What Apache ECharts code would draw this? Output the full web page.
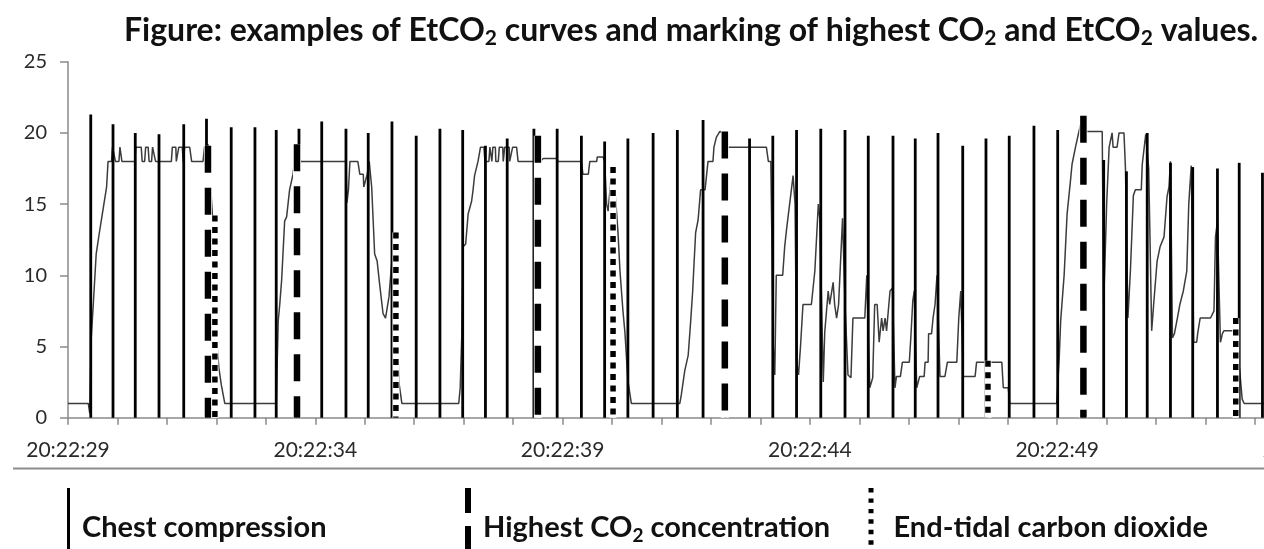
<!DOCTYPE html>
<html><head><meta charset="utf-8">
<script src="https://cdn.jsdelivr.net/npm/echarts@6/dist/echarts.min.js"></script>
<style>html,body{margin:0;padding:0;background:#fff}#c{width:1264px;height:549px}</style>
</head><body><div id="c"></div>
<script>
// time axis: seconds after 20:22:29
const xTickValues = [0, 5, 10, 15, 20, 25];
const xTickLabels = ['20:22:29', '20:22:34', '20:22:39', '20:22:44', '20:22:49', '20:22:54'];

// chest compressions (time, peak height)
const compressionT = [0.46,0.91,1.36,1.84,2.34,2.80,3.30,3.78,4.21,4.67,5.13,5.62,6.07,6.55,7.04,7.52,7.98,8.44,8.88,9.42,9.89,10.38,10.85,11.32,11.83,12.32,12.84,13.30,13.78,14.25,14.73,15.22,15.71,16.18,16.68,17.13,17.59,18.09,18.56,19.03,19.53,20.01,20.53,20.94,21.40,21.82,22.29,22.74,23.24,23.68,24.15];
const compressionH = [21.3,20.6,20.0,19.9,20.6,21.0,20.4,20.4,20.2,20.3,20.8,20.3,20.0,20.8,19.8,20.3,20.2,19.1,19.6,20.3,20.3,19.8,19.4,19.6,20.0,20.2,20.9,20.0,19.6,19.8,20.2,20.3,20.2,19.8,19.8,19.6,20.0,19.1,19.6,19.8,20.5,20.2,21.0,18.1,17.3,20.0,17.9,17.6,17.5,17.9,17.2];

// highest CO2 concentration markers
const highestT = [2.83, 4.63, 9.50, 13.28, 20.53];
const highestH = [19.1, 19.2, 19.8, 20.1, 21.2];

// end-tidal CO2 markers
const etco2T = [2.97, 6.63, 11.02, 18.60, 23.61];
const etco2H = [14.2, 13.0, 17.6, 4.0, 7.0];

// EtCO2 curve
const curveT = [0,0.41,0.44,0.47,0.51,0.57,0.63,0.68,0.71,0.78,0.81,0.88,0.90,0.94,0.96,1.03,1.05,1.08,1.09,1.35,1.37,1.48,1.50,1.55,1.57,1.62,1.64,1.69,1.71,1.75,1.77,2.09,2.11,2.18,2.19,2.23,2.24,2.31,2.33,2.35,2.36,2.46,2.50,2.73,2.76,2.83,2.87,2.92,2.97,3.00,3.05,3.10,3.17,
4.21,4.25,4.28,4.32,4.38,4.42,4.48,4.52,4.55,4.58,4.62,4.67,4.70,5.62,5.64,5.67,5.70,5.86,5.90,5.97,5.98,6.02,6.05,6.09,6.14,6.20,6.25,6.30,6.37,6.42,6.49,6.57,6.62,6.66,6.69,6.75,
7.90,7.93,7.96,7.99,8.04,8.09,8.16,8.19,8.22,8.29,8.33,8.34,8.41,8.43,8.51,8.53,8.56,8.57,8.59,8.64,8.65,8.70,8.72,8.79,8.80,8.82,8.83,8.92,8.93,8.97,8.99,9.07,9.10,9.54,9.61,9.88,9.91,10.38,10.41,10.52,10.55,10.69,10.70,10.82,10.85,10.89,10.92,10.97,11.02,11.08,11.12,11.16,11.22,11.26,11.32,11.39,
12.37,12.40,12.47,12.54,12.59,12.63,12.66,12.69,12.74,12.77,12.79,12.88,12.91,12.94,13.04,13.06,13.11,13.18,13.27,13.31,14.12,14.16,14.21,14.26,14.29,14.32,14.45,14.49,14.53,14.59,14.66,14.70,14.73,14.77,14.81,14.86,15.03,15.10,15.17,15.20,15.27,15.30,15.37,15.40,15.44,15.47,15.50,15.54,15.58,15.62,15.66,15.71,15.77,15.83,15.87,16.11,16.15,16.17,16.21,16.27,16.31,16.36,16.40,16.45,16.48,16.52,16.55,16.62,16.67,16.72,16.75,16.83,16.87,17.01,17.04,17.08,17.11,17.16,17.22,17.31,17.33,17.39,17.40,17.46,17.49,17.53,17.57,17.63,17.73,17.78,17.97,18.01,18.05,18.10,18.34,18.37,18.88,18.91,19.01,19.04,
19.99,20.04,20.07,20.14,20.17,20.20,20.27,20.30,20.37,20.44,20.51,20.57,20.91,20.94,21.00,21.05,21.11,21.13,21.21,21.25,21.35,21.38,21.43,21.48,21.54,21.58,21.70,21.72,21.79,21.85,21.91,21.95,22.02,22.08,22.16,22.22,22.26,22.29,22.33,22.37,22.43,22.48,22.55,22.62,22.66,22.71,22.76,22.82,22.84,22.89,23.10,23.17,23.20,23.24,23.30,23.34,23.37,23.57,23.63,23.69,23.74,23.78,24.18];
const curveV = [1,1,0.3,5.6,7.9,11.5,12.9,14,14.1,16.2,18,18,19,19,18,18,19,19,18,18,19,19,18,18,19,19,18,18,19,19,18,18,19,19,18,18,19,19,18,18,19,19,18,18,19,19.2,17,14.2,9,5.6,3.5,2.3,1,
1,6.8,7.9,9.7,13.8,14.1,16,16,17.1,18,19,19.1,18,18,15.1,16,18,18,17.1,17.1,16.2,16.2,17.1,18,16.2,11.5,11,9.4,7.3,7,8.5,12,13,6,2.5,1,
1,2.1,5.6,12,12.2,14.3,15.2,16,17,18,18,19,19,18,18,19,19,18,19,19,18,18,19,19,18,18,19,19,18,18,19,19,18,18,18.2,18.2,18,18,17.1,17.1,18,18,18.3,18.3,18,15,14.5,16.5,17.5,15,13,10.3,7.5,6,2.6,1,
1,1.6,3.3,4.4,6.8,8.9,11,13,13.9,14,16,16,17,18,18,19,19.7,20.1,19.9,19,19,18,18,5,3,10,10,12,13.3,15,17,15,4,3,5,7.95,7.95,10.3,15,14,2.5,6,8.9,7.95,7.95,9.5,7.95,7,7.95,7.95,14,8,3,2.8,7,7,10,10,2.1,2.8,7.95,7.95,5.3,7,6.1,7,6.1,8.9,9.1,2.1,2.9,2.9,3.9,3.9,5.6,8.2,8.9,2.1,2.9,2.9,3.9,3.9,5.9,5.9,7,7.95,10,2.9,2.9,3.9,3.9,7,8.9,2.9,2.9,3.9,3.9,2.1,2.1,1,
1,4.1,6.8,10,10,14.3,16.7,17.8,19,20.1,21.1,20.1,20.1,7.95,15,19,20,19,19,20,20,17.5,7,10.3,15.6,16,16,17.8,19.9,17.5,6.1,7.95,11,12,12.7,15.5,16.2,18,5.6,5.9,7,7.95,8.9,10.3,15,17.7,5.3,5.3,5.9,7,7,7.5,12.7,13.8,5.3,5.9,6.1,6.1,5,3.3,1.3,1,1];

const FONT = 'Lato, Carlito, "Open Sans", sans-serif';

function pairs(a, b) { return a.map((t, i) => [t, b[i]]); }

function vline(width, dash, underlay) {
  return function (params, api) {
    const top = api.coord([api.value(0), api.value(1)]);
    const bot = api.coord([api.value(0), 0]);
    const shape = { x1: top[0], y1: top[1], x2: bot[0], y2: bot[1] };
    const children = [];
    if (underlay) children.push({ type: 'line', shape: shape, style: { stroke: '#fff', lineWidth: width + 1.5 } });
    children.push({ type: 'line', shape: shape, style: { stroke: '#000', lineWidth: width, lineDash: dash } });
    return { type: 'group', children: children };
  };
}

let dotPath = 'path://';
for (let i = 0; i < 9; i++) dotPath += 'M0,' + (i * 10.45).toFixed(2) + 'h5v4.4h-5z';
const solidPath = 'path://M0,0h3v88h-3z';
const dashPath = 'path://M0,0h6v25h-6zM0,38h6v25h-6zM0,76h6v12h-6z';

const legendRich = {
  a: { fontFamily: FONT, fontWeight: 'bold', fontSize: 29, color: '#111', lineHeight: 34 },
  s: { fontFamily: FONT, fontWeight: 'bold', fontSize: 19, color: '#111', lineHeight: 19, verticalAlign: 'bottom' }
};
function legendCfg(left, name, icon, w, pad, fmt) {
  return {
    left: left, top: 483, orient: 'horizontal', itemWidth: w, itemHeight: 88,
    data: [{ name: name, icon: icon }], selectedMode: false,
    formatter: fmt,
    textStyle: { padding: [0, 0, 8, pad], rich: legendRich }
  };
}

const chart = echarts.init(document.getElementById('c'), null, { renderer: 'canvas' });
chart.setOption({
  animation: false,
  backgroundColor: '#fff',
  title: {
    left: 119, top: 8,
    text: '{a|Figure: examples of EtCO}{s|2}{a| curves and marking of highest CO}{s|2}{a| and EtCO}{s|2}{a| values.}',
    textStyle: {
      rich: {
        a: { fontFamily: FONT, fontWeight: 'bold', fontSize: 32, color: '#111', lineHeight: 36 },
        s: { fontFamily: FONT, fontWeight: 'bold', fontSize: 21, color: '#111', lineHeight: 21, verticalAlign: 'bottom' }
      }
    }
  },
  grid: { left: 68, top: 61.7, bottom: 131.3, right: -40.5, containLabel: false, outerBoundsMode: 'none' },
  xAxis: {
    type: 'value', min: 0, max: 25, interval: 1,
    axisLine: { show: true, lineStyle: { color: '#8a8a8a', width: 1.5 } },
    axisTick: { show: true, length: 7, lineStyle: { color: '#8a8a8a', width: 1.5 } },
    splitLine: { show: false },
    axisLabel: {
      margin: 22, fontFamily: FONT, fontSize: 21, color: '#2a2a2a', showMaxLabel: true, showMinLabel: true, hideOverlap: false,
      formatter: function (v) { const i = xTickValues.indexOf(v); return i >= 0 ? xTickLabels[i] : ''; }
    }
  },
  yAxis: {
    type: 'value', min: 0, max: 25, interval: 5,
    axisLine: { show: true, lineStyle: { color: '#8a8a8a', width: 1.5 } },
    axisTick: { show: true, length: 8, lineStyle: { color: '#8a8a8a', width: 1.5 } },
    splitLine: { show: false },
    axisLabel: { margin: 21, fontFamily: FONT, fontSize: 20, color: '#2a2a2a' }
  },
  legend: [
    legendCfg(62, 'Chest compression', solidPath, 3, 7, function () { return '{a|Chest compression}'; }),
    legendCfg(460, 'Highest CO₂ concentration', dashPath, 6, 7, function () { return '{a|Highest CO}{s|2}{a| concentration}'; }),
    legendCfg(863.5, 'End-tidal carbon dioxide', dotPath, 5, 15, function () { return '{a|End-tidal carbon dioxide}'; })
  ],
  graphic: [{
    type: 'line', silent: true,
    shape: { x1: 13, y1: 468.5, x2: 1264, y2: 468.5 },
    style: { stroke: '#8c8c8c', lineWidth: 2 }
  }],
  series: [
    {
      name: 'EtCO₂', type: 'line', data: pairs(curveT, curveV), showSymbol: false, symbol: 'none',
      lineStyle: { color: '#3c3c3c', width: 1.5 }, z: 2, silent: true
    },
    {
      name: 'Chest compression', type: 'custom', data: pairs(compressionT, compressionH),
      encode: { x: 0, y: 1 }, renderItem: vline(2.8, null, false), itemStyle: { color: '#000' }, z: 3, silent: true
    },
    {
      name: 'Highest CO₂ concentration', type: 'custom', data: pairs(highestT, highestH),
      encode: { x: 0, y: 1 }, renderItem: vline(6.5, [27, 15], true), itemStyle: { color: '#000' }, z: 4, silent: true
    },
    {
      name: 'End-tidal carbon dioxide', type: 'custom', data: pairs(etco2T, etco2H),
      encode: { x: 0, y: 1 }, renderItem: vline(5.5, [6, 5.5], true), itemStyle: { color: '#000' }, z: 5, silent: true
    }
  ]
});
</script></body></html>
